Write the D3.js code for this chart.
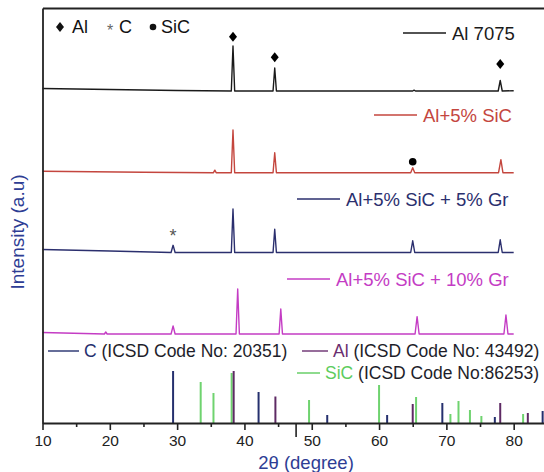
<!DOCTYPE html>
<html>
<head>
<meta charset="utf-8">
<script src="https://cdn.jsdelivr.net/npm/d3@7"></script>
<style>
  body { margin: 0; background: #fff; }
  svg { display: block; font-family: "Liberation Sans", Arial, sans-serif; }
</style>
</head>
<body>
<svg id="chart"></svg>
<script>
// x axis ticks (2θ, degree)
const majorTicks = [10, 20, 30, 40, 50, 60, 70, 80];
const minorTicks = [15, 25, 35, 45, 55, 65, 75, 85];
const strayTick = [47.6];

// measured XRD patterns: [2θ, intensity above the pattern's own baseline]
const al7075 = [[10, 25], [20, 15], [30, 5], [38.05, 0], [38.3, 450], [38.55, 0], [44.25, 0], [44.5, 230], [44.75, 0],
  [65, 0], [65.2, 8], [65.4, 0], [77.7, 0], [78.0, 105], [78.3, 0], [80, 3]];
const alSic = [[10, 15], [25, 5], [35.4, 0], [35.6, 25], [35.8, 0], [38.05, 0], [38.3, 427], [38.55, 0], [44.25, 0],
  [44.5, 200], [44.75, 0], [64.7, 0], [65.0, 50], [65.3, 0], [77.75, 0], [78.1, 130], [78.4, 0], [80, 0]];
const alSicGr5 = [[10, 30], [20, 15], [29.1, 0], [29.4, 72], [29.7, 0], [38.05, 0], [38.3, 435], [38.55, 0], [44.25, 0],
  [44.5, 232], [44.75, 0], [64.7, 0], [65.0, 117], [65.3, 0], [77.7, 0], [78.0, 127], [78.3, 0], [80, 0]];
const alSicGr10 = [[10, 15], [19.2, 0], [19.4, 20], [19.6, 0], [29.1, 0], [29.4, 80], [29.7, 0], [38.75, 0], [39.0, 450],
  [39.25, 0], [45.15, 0], [45.4, 250], [45.65, 0], [65.35, 0], [65.65, 173], [65.95, 0], [78.55, 0], [78.85, 190],
  [79.15, 0], [80, 0]];

// reference stick patterns: [2θ, intensity]
const cSticks = [[29.4, 520], [42.1, 310], [52.3, 80], [61.2, 80], [69.4, 200], [77.2, 60], [84.3, 120]];
const alSticks = [[38.4, 520], [44.6, 265], [65.0, 190], [78.0, 200], [82.1, 100]];
const sicSticks = [[33.5, 410], [35.4, 300], [38.1, 500], [49.6, 230], [60.0, 380], [65.5, 260], [70.6, 90],
  [71.8, 220], [73.5, 130], [75.2, 70], [81.4, 90]];

// phase markers: [2θ, intensity above the pattern's baseline]
const alMarks = [[38.3, 543], [44.5, 337], [78.0, 270]];
const sicMarks = [[65.0, 110]];
const cMarks = [[29.4, 195]];

const width = 544, height = 472;
const svg = d3.select("#chart").attr("width", width).attr("height", height);

const x = d3.scaleLinear().domain([10, 90]).range([42.5, 581]);
const y = d3.scaleLinear().domain([0, 4150]).range([423, 8]);

// stacked patterns
const series = [
  { name: "Al 7075", data: al7075, color: "#1a1a1a", offset: 3320, lx: 403, ly: 33 },
  { name: "Al+5% SiC", data: alSic, color: "#c4463e", offset: 2503, lx: 374, ly: 115 },
  { name: "Al+5% SiC + 5% Gr", data: alSicGr5, color: "#2b2f6e", offset: 1705, lx: 297, ly: 199 },
  { name: "Al+5% SiC + 10% Gr", data: alSicGr10, color: "#c43cc4", offset: 890, lx: 287, ly: 279 },
];

const line = d3.line();

series.forEach((s) => {
  svg.append("path")
    .datum(s.data)
    .attr("fill", "none")
    .attr("stroke", s.color)
    .attr("stroke-width", 1.4)
    .attr("stroke-linejoin", "round")
    .attr("d", line.x((d) => x(d[0])).y((d) => y(d[1] + s.offset)));

  // legend entry
  svg.append("line")
    .attr("x1", s.lx).attr("x2", s.lx + 43)
    .attr("y1", s.ly).attr("y2", s.ly)
    .attr("stroke", s.color).attr("stroke-width", 1.3);
  svg.append("text")
    .attr("x", s.lx + 49).attr("y", s.ly + 6.5)
    .attr("fill", s.color)
    .attr("font-size", 18.5)
    .text(s.name);
});

// stick patterns
const sticks = [
  { data: sicSticks, color: "#6fd36f" },
  { data: cSticks, color: "#25306e" },
  { data: alSticks, color: "#5e2a64" },
];
sticks.forEach((s) => {
  svg.append("g")
    .selectAll("line")
    .data(s.data)
    .join("line")
    .attr("x1", (d) => x(d[0])).attr("x2", (d) => x(d[0]))
    .attr("y1", y(0)).attr("y2", (d) => y(d[1]))
    .attr("stroke", s.color)
    .attr("stroke-width", 2);
});

// phase markers
const diamond = "M0,-5L4,0L0,5L-4,0Z";
svg.append("g")
  .selectAll("path")
  .data(alMarks)
  .join("path")
  .attr("d", diamond)
  .attr("fill", "#000")
  .attr("transform", (d) => `translate(${x(d[0])},${y(d[1] + series[0].offset)})`);
svg.append("g")
  .selectAll("circle")
  .data(sicMarks)
  .join("circle")
  .attr("cx", (d) => x(d[0]))
  .attr("cy", (d) => y(d[1] + series[1].offset))
  .attr("r", 3.8)
  .attr("fill", "#000");
svg.append("g")
  .selectAll("text")
  .data(cMarks)
  .join("text")
  .attr("x", (d) => x(d[0]))
  .attr("y", (d) => y(d[1] + series[2].offset) + 9)
  .attr("text-anchor", "middle")
  .attr("font-size", 18)
  .attr("fill", "#555")
  .text("*");

// phase key, top left
const key = svg.append("g").attr("font-size", 18).attr("fill", "#111");
key.append("path").attr("d", diamond).attr("transform", "translate(60,27)");
key.append("text").attr("x", 72).attr("y", 33).text("Al");
key.append("text").attr("x", 110).attr("y", 36).attr("text-anchor", "middle")
  .attr("fill", "#666").attr("font-size", 16).text("*");
key.append("text").attr("x", 119).attr("y", 33).text("C");
key.append("circle").attr("cx", 153).attr("cy", 27).attr("r", 3.3);
key.append("text").attr("x", 161).attr("y", 33).text("SiC");

// stick pattern key
const refKey = [
  { phase: "C", rest: " (ICSD Code No: 20351)", color: "#25306e", lx: 48, tx: 84, ly: 351 },
  { phase: "Al", rest: " (ICSD Code No: 43492)", color: "#6b2f70", lx: 302, tx: 333, ly: 351 },
  { phase: "SiC", rest: " (ICSD Code No:86253)", color: "#5dcc5d", lx: 297, tx: 325, ly: 373 },
];
refKey.forEach((k) => {
  svg.append("line")
    .attr("x1", k.lx).attr("x2", k.tx - 5)
    .attr("y1", k.ly).attr("y2", k.ly)
    .attr("stroke", k.color).attr("stroke-width", 1.4);
  const t = svg.append("text")
    .attr("x", k.tx).attr("y", k.ly + 6)
    .attr("font-size", 17.5);
  t.append("tspan").attr("fill", k.color).text(k.phase);
  t.append("tspan").attr("fill", "#1e1e2a").text(k.rest);
});

// axes
const xAxis = svg.append("g")
  .attr("transform", `translate(0,${y(0)})`)
  .call(d3.axisBottom(x).tickValues(majorTicks).tickSize(7).tickSizeOuter(0).tickPadding(5));
xAxis.selectAll("text").attr("font-size", 15.5).attr("fill", "#222")
  .attr("font-family", "Liberation Sans, Arial, sans-serif");
svg.append("g")
  .attr("transform", `translate(0,${y(0)})`)
  .call(d3.axisBottom(x).tickValues(minorTicks).tickSize(4).tickFormat(""))
  .call((g) => g.select(".domain").remove());
svg.append("g")
  .attr("transform", `translate(0,${y(0)})`)
  .call(d3.axisBottom(x).tickValues(strayTick).tickSize(14).tickFormat(""))
  .call((g) => g.select(".domain").remove());
svg.append("g")
  .attr("transform", `translate(${x(10)},0)`)
  .call(d3.axisLeft(y).tickValues([]).tickSizeOuter(0));
svg.append("g")
  .attr("transform", `translate(0,${y(4150)})`)
  .call(d3.axisTop(x).tickValues([]).tickSizeOuter(0));

svg.selectAll(".domain").attr("stroke", "#222").attr("stroke-width", 1.8);
svg.selectAll(".tick line").attr("stroke", "#222").attr("stroke-width", 1.6);

// axis titles
svg.append("text")
  .attr("transform", "translate(24,232) rotate(-90)")
  .attr("text-anchor", "middle")
  .attr("font-size", 19)
  .attr("fill", "#2e3d94")
  .text("Intensity (a.u)");
svg.append("text")
  .attr("x", 306).attr("y", 469)
  .attr("text-anchor", "middle")
  .attr("font-size", 18.5)
  .attr("fill", "#2e3d94")
  .text("2θ (degree)");
</script>
</body>
</html>
